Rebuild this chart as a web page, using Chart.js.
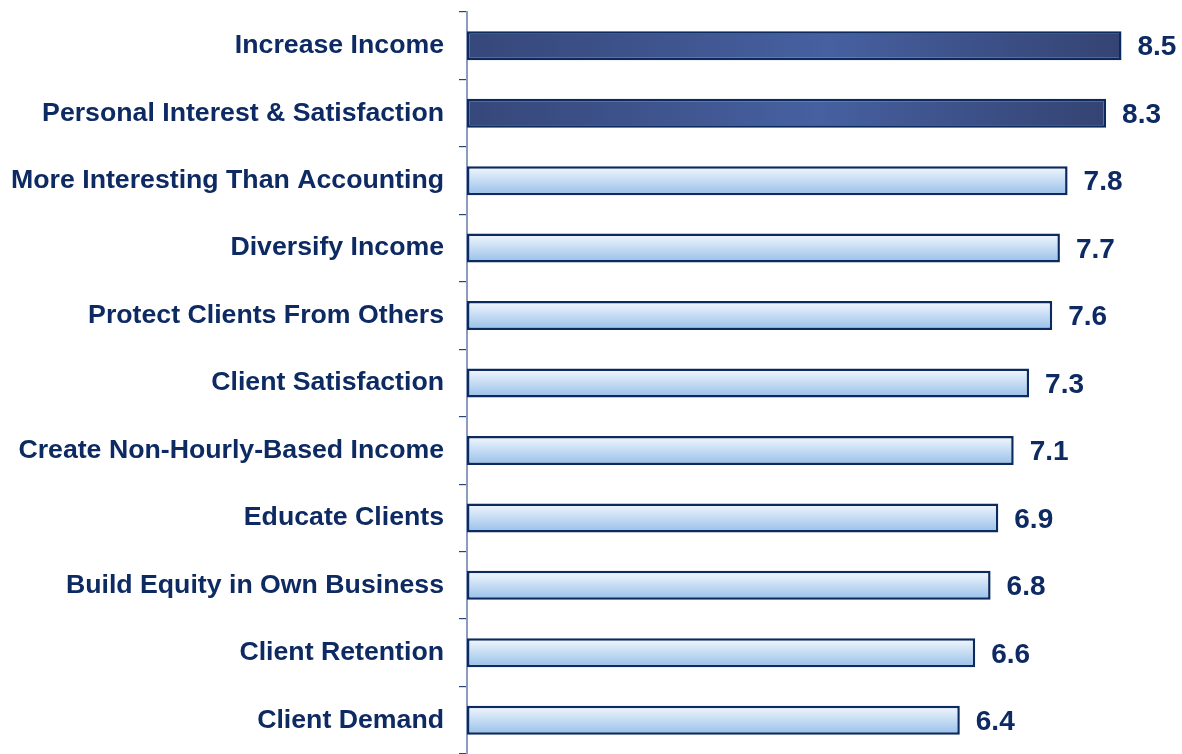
<!DOCTYPE html>
<html>
<head>
<meta charset="utf-8">
<script src="https://cdn.jsdelivr.net/npm/chart.js@4/dist/chart.umd.min.js"></script>
<style>
  html, body { margin: 0; padding: 0; background: #ffffff; }
  #wrap { width: 1182px; height: 754px; position: relative; }
</style>
</head>
<body>
<div id="wrap"><canvas id="grafico"></canvas></div>
<script>
const categorias = [
  'Increase Income',
  'Personal Interest & Satisfaction',
  'More Interesting Than Accounting',
  'Diversify Income',
  'Protect Clients From Others',
  'Client Satisfaction',
  'Create Non-Hourly-Based Income',
  'Educate Clients',
  'Build Equity in Own Business',
  'Client Retention',
  'Client Demand'
]
const valores = [8.5, 8.3, 7.8, 7.7, 7.6, 7.3, 7.1, 6.9, 6.8, 6.6, 6.4]
const destaque = [true, true, false, false, false, false, false, false, false, false, false]

const azulTexto = '#0d2a63'
const fonte = '"Liberation Sans", Arial, Helvetica, sans-serif'

function corBarra(ctx) {
  const chart = ctx.chart
  const area = chart.chartArea
  if (!area) return '#a9c9ec'
  const c = chart.ctx
  const i = ctx.dataIndex
  const x = chart.scales.x
  const y = chart.scales.y
  if (destaque[i]) {
    const x0 = x.getPixelForValue(0)
    const x1 = x.getPixelForValue(valores[i])
    const g = c.createLinearGradient(x0, 0, x1, 0)
    g.addColorStop(0, '#36477a')
    g.addColorStop(0.55, '#4660a0')
    g.addColorStop(1, '#344373')
    return g
  }
  const yc = y.getPixelForValue(i)
  const g = c.createLinearGradient(0, yc - 14, 0, yc + 14)
  g.addColorStop(0, '#f2f7fd')
  g.addColorStop(1, '#98c0ea')
  return g
}

// valores escritos na ponta das barras
const rotulos = {
  id: 'rotulos',
  afterDatasetsDraw(chart) {
    const c = chart.ctx
    const meta = chart.getDatasetMeta(0)
    c.save()
    c.font = 'bold 28px ' + fonte
    c.fillStyle = azulTexto
    c.textAlign = 'left'
    c.textBaseline = 'middle'
    meta.data.forEach((bar, i) => {
      c.fillText(valores[i].toFixed(1), bar.x + 16, bar.y + 2)
    })
    c.restore()
  }
}

window.onload = () => {
  const contexto = document.getElementById('grafico').getContext('2d')
  new Chart(contexto, {
    type: 'bar',
    data: {
      labels: categorias,
      datasets: [{
        data: valores,
        backgroundColor: corBarra,
        borderColor: '#0b2a5e',
        borderWidth: 2.5,
        borderSkipped: false,
        barPercentage: 0.43,
        categoryPercentage: 1
      }]
    },
    plugins: [rotulos],
    options: {
      indexAxis: 'y',
      responsive: true,
      maintainAspectRatio: false,
      animation: false,
      layout: { padding: { top: 12, right: 22, bottom: 0, left: 0 } },
      plugins: {
        legend: { display: false },
        tooltip: { enabled: false }
      },
      scales: {
        x: {
          display: false,
          min: 0,
          max: 9
        },
        y: {
          afterFit: (scale) => {
            scale.width = 467
            scale.paddingTop = 0
            scale.paddingBottom = 0
          },
          grid: {
            offset: true,
            drawOnChartArea: false,
            drawTicks: true,
            tickLength: 8,
            color: '#2a4478',
            lineWidth: 1.2
          },
          border: { display: true, color: '#8b9cc0', width: 2 },
          ticks: {
            padding: 15,
            color: azulTexto,
            font: { family: fonte, size: 26.7, weight: 'bold' }
          }
        }
      }
    }
  })
}
</script>
</body>
</html>
